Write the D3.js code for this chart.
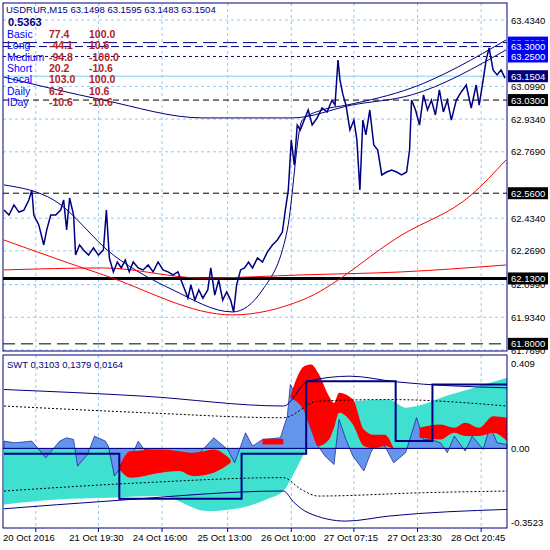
<!DOCTYPE html>
<html><head><meta charset="utf-8">
<script src="https://cdn.jsdelivr.net/npm/d3@7"></script>
<style>body{margin:0;background:#fff}text{font-family:"Liberation Sans",Arial,sans-serif}</style>
</head><body><svg id="c" width="550" height="550"></svg>
<script>
// price data (bar index, close)
var barIdx = [0,5,10,15,20,25,28,30,35,40,43,47,52,57,60,63,66,70,72,76,80,85,90,95,100,103,106,110,114,118,122,126,130,135,140,145,150,155,160,165,170,175,178,182,185,188,192,196,200,205,208,212,216,220,224,228,231,234,238,242,246,250,255,260,265,270,275,280,283,286,289,292,295,298,302,306,310,315,320,325,330,333,336,338,341,344,348,352,355,358,361,364,368,372,376,380,385,390,395,400,405,408,410,414,418,422,426,430,434,438,442,446,450,455,460,465,470,475,478,482,485,488,492,496,500,504];
var closes = [62.475,62.450,62.501,62.465,62.475,62.526,62.576,62.450,62.400,62.299,62.375,62.450,62.450,62.475,62.526,62.375,62.536,62.450,62.248,62.299,62.274,62.248,62.284,62.248,62.274,62.475,62.233,62.163,62.213,62.183,62.223,62.163,62.213,62.183,62.173,62.198,62.163,62.213,62.173,62.163,62.148,62.163,62.122,62.072,62.031,62.097,62.021,62.072,62.031,62.072,62.183,62.046,62.122,62.021,62.062,62.021,61.961,62.097,62.173,62.183,62.213,62.183,62.233,62.213,62.264,62.299,62.324,62.364,62.475,62.576,62.829,62.703,62.904,62.879,62.929,62.980,62.904,62.940,62.990,62.970,63.030,63.005,63.232,63.131,63.056,63.005,62.879,62.929,62.829,62.576,62.929,62.854,62.980,62.803,62.778,62.652,62.667,62.677,62.667,62.652,62.667,62.778,63.030,62.980,62.904,63.056,62.980,63.030,62.955,63.081,62.970,63.030,62.929,63.030,63.071,63.106,62.990,63.106,63.005,63.131,63.232,63.293,63.182,63.157,63.182,63.141];
var maSlow = [[0,63.146],[100,63.030],[200,62.940],[290,62.940],[350,63.005],[410,63.056],[505,63.283]];
var maFast = [[0,62.602],[50,62.526],[110,62.248],[170,62.072],[230,61.961],[260,62.072],[285,62.375],[300,62.929],[320,62.980],[345,63.005],[410,63.091],[505,63.333]];
var redA = [[0,62.324],[100,62.148],[230,61.946],[300,62.021],[400,62.349],[470,62.551],[505,62.728]];
var redB = [[0,62.173],[100,62.183],[200,62.132],[300,62.148],[400,62.163],[505,62.198]];
var priceTicks = [63.434,63.099,62.934,62.769,62.434,62.269,62.099,61.934,61.769];
var levels = [
  {v:63.32,label:"63.3200",dash:"14,6",col:"#000080",bg:"#0000ff"},
  {v:63.30,label:"63.3000",dash:"8,4",col:"#000080",bg:"#0000ff"},
  {v:63.25,label:"63.2500",dash:"3,3",col:"#000080",bg:"#0000ff"},
  {v:63.1504,label:"63.1504",dash:null,col:"#87cefa",bg:"#000080"},
  {v:63.03,label:"63.0300",dash:"6,4",col:"#000",bg:"#000"},
  {v:62.56,label:"62.5600",dash:"6,4",col:"#000",bg:"#000"},
  {v:62.13,label:"62.1300",dash:null,col:"#000",bg:"#000",w:3},
  {v:61.80,label:"61.8000",dash:"12,6",col:"#000",bg:"#000"}];
var infoNames = ["Basic","Long","Medium","Short","Local","Daily","IDay"];
var infoA = ["77.4","-44.1","-94.8","20.2","103.0","6.2","-10.6"];
var infoB = ["100.0","10.6","-100.0","-10.6","100.0","10.6","-10.6"];
var timeLabels = ["20 Oct 2016","21 Oct 19:30","24 Oct 16:00","25 Oct 13:00","26 Oct 10:00","27 Oct 07:15","27 Oct 23:30","28 Oct 20:45"];
var timeTicks = [0,93,157,222,286,349,413,477];
var gridTicks = [32,95,159,225,289,352,416,480];

// oscillator
var osc = [[0,0.035],[11,0.027],[28,0.035],[42,-0.045],[56,0.035],[63,0.051],[70,0.043],[74,-0.085],[84,-0.029],[91,0.059],[102,0.035],[105,0.011],[111,-0.132],[116,-0.100],[130,-0.021],[135,0.035],[141,-0.005],[176,-0.021],[183,-0.069],[197,-0.021],[211,0.051],[225,-0.005],[232,-0.069],[243,0.075],[250,0.011],[260,0.043],[278,0.051],[285,0.155],[288,0.306],[295,0.250],[302,0.187],[309,0.091],[316,0.011],[323,-0.037],[332,-0.077],[337,0.139],[344,0.043],[351,-0.037],[362,-0.108],[369,-0.021],[376,0.043],[383,0.011],[392,-0.069],[404,-0.021],[415,0.147],[422,0.043],[429,0.043],[439,0.027],[446,-0.021],[453,0.059],[464,-0.013],[471,0.059],[482,-0.005],[489,0.107],[496,0.027],[506,0.019]];
var trend = [[0,-0.268],[53,-0.244],[105,-0.236],[158,-0.228],[204,-0.300],[239,-0.284],[264,-0.244],[281,-0.204],[292,-0.116],[304,-0.005],[316,0.091],[334,0.171],[351,0.226],[387,0.234],[404,0.195],[422,0.211],[439,0.242],[467,0.282],[506,0.338]];
var redSegs = [
  [[116,-0.084,-0.100],[127,-0.013,-0.140],[158,-0.005,-0.116],[176,-0.013,-0.108],[190,-0.021,-0.132],[211,-0.005,-0.116],[228,-0.053,-0.069]],
  [[260,0.046,0.019],[281,0.046,0.019]],
  [[288,0.250,0.242],[302,0.394,0.179],[309,0.402,0.091],[316,0.362,0.011],[327,0.250,0.043],[332,0.218,0.100],[337,0.266,0.171],[351,0.234,0.115],[362,0.091,0.011],[372,0.066,0.000],[383,0.066,0.011],[392,0.000,-0.005]],
  [[418,0.099,0.051],[439,0.115,0.043],[453,0.099,0.075],[464,0.123,0.059],[478,0.099,0.059],[492,0.154,0.075],[506,0.147,0.035]]];
var upThin = [[0,0.282],[141,0.250],[281,0.203],[306,0.322],[348,0.346],[394,0.319],[506,0.290]];
var loThin = [[0,-0.289],[105,-0.252],[281,-0.204],[292,-0.260],[306,-0.308],[344,-0.348],[387,-0.324],[506,-0.292]];
var upDash = [[0,0.203],[141,0.171],[281,0.147],[316,0.226],[387,0.234],[506,0.203]];
var loDash = [[0,-0.204],[141,-0.164],[281,-0.140],[299,-0.196],[316,-0.228],[422,-0.212],[506,-0.204]];
var steps = [[0,-0.025],[116,-0.241],[239,-0.025],[304,0.322],[394,0.035],[431,0.306],[506,0.306]];

var svg = d3.select("#c");
var L = 3, R = 507;
var x = d3.scaleLinear().domain([0,506]).range([L+1,R]);
var y = d3.scaleLinear().domain([61.769,63.434]).range([350,20]);
var y2 = d3.scaleLinear().domain([-0.3523,0.409]).range([522,363]);
var navy = "#000080", grid = "#87cefa";

// grids
[[3,351],[355,528]].forEach(function(p){
  svg.append("g").selectAll("line").data(gridTicks)
    .enter().append("line").attr("x1",function(d){return x(d);}).attr("x2",function(d){return x(d);})
    .attr("y1",p[0]).attr("y2",p[1]).attr("stroke",grid).attr("stroke-dasharray","3,3");
});
svg.append("g").selectAll("line").data(priceTicks).enter().append("line")
  .attr("x1",L).attr("x2",R).attr("y1",function(d){return y(d);}).attr("y2",function(d){return y(d);})
  .attr("stroke",grid).attr("stroke-dasharray","3,3");

// levels
levels.forEach(function(l){
  svg.append("line").attr("x1",L).attr("x2",R).attr("y1",y(l.v)).attr("y2",y(l.v))
    .attr("stroke",l.col).attr("stroke-width",l.w||1).attr("stroke-dasharray",l.dash);
});

var ln = d3.line().x(function(d){return x(d[0]);}).y(function(d){return y(d[1]);}).curve(d3.curveMonotoneX);
[[maSlow,navy],[maFast,navy],[redA,"#ff0000"],[redB,"#ff0000"]].forEach(function(s){
  svg.append("path").attr("d",ln(s[0])).attr("fill","none").attr("stroke",s[1]);
});
var pts = barIdx.map(function(b,i){return [b,closes[i]];});
svg.append("path").attr("d",d3.line().x(function(d){return x(d[0]);}).y(function(d){return y(d[1]);})(pts))
  .attr("fill","none").attr("stroke",navy).attr("stroke-width",1.5);

// right axis
svg.append("g").selectAll("text").data(priceTicks).enter().append("text")
  .attr("x",511).attr("y",function(d){return y(d)+3.5;}).attr("font-size",9.5).text(function(d){return d.toFixed(4);});
levels.forEach(function(l){
  svg.append("rect").attr("x",508).attr("y",y(l.v)-6).attr("width",40).attr("height",12).attr("fill",l.bg);
  svg.append("text").attr("x",511).attr("y",y(l.v)+3.5).attr("font-size",9.5).attr("fill","#fff").text(l.label);
});

// info text
svg.append("text").attr("x",6).attr("y",13).attr("font-size",9.5).attr("fill",navy).text("USDRUR,M15  63.1498 63.1595 63.1483 63.1504");
svg.append("text").attr("x",8).attr("y",26).attr("font-size",11).attr("font-weight","bold").attr("fill",navy).text("0.5363");
infoNames.forEach(function(n,i){
  var yy = 38 + i*11.3;
  svg.append("text").attr("x",7).attr("y",yy).attr("font-size",10.5).attr("fill","#0000ff").text(n);
  svg.append("text").attr("x",49).attr("y",yy).attr("font-size",10.5).attr("font-weight","bold").attr("fill","#b22222").text(infoA[i]);
  svg.append("text").attr("x",89).attr("y",yy).attr("font-size",10.5).attr("font-weight","bold").attr("fill","#b22222").text(infoB[i]);
});

// lower panel
var a2 = function(data){return d3.area().x(function(d){return x(d[0]);}).y0(y2(0)).y1(function(d){return y2(d[1]);}).curve(d3.curveMonotoneX)(data);};
svg.append("path").attr("d",a2(trend)).attr("fill","#40e0d0");
svg.append("path").attr("d",d3.area().x(function(d){return x(d[0]);}).y0(y2(0)).y1(function(d){return y2(d[1]);})(osc))
  .attr("fill","#6495ed").attr("stroke",navy).attr("stroke-width",0.6);
redSegs.forEach(function(seg){
  svg.append("path").attr("d",d3.area().x(function(d){return x(d[0]);}).y0(function(d){return y2(d[2]);}).y1(function(d){return y2(d[1]);}).curve(d3.curveMonotoneX)(seg))
    .attr("fill","#ff0000");
});
svg.append("line").attr("x1",L).attr("x2",R).attr("y1",y2(0)).attr("y2",y2(0)).attr("stroke",navy);
var l2 = d3.line().x(function(d){return x(d[0]);}).y(function(d){return y2(d[1]);}).curve(d3.curveMonotoneX);
svg.append("path").attr("d",l2(upThin)).attr("fill","none").attr("stroke",navy);
svg.append("path").attr("d",l2(loThin)).attr("fill","none").attr("stroke",navy);
svg.append("path").attr("d",l2(upDash)).attr("fill","none").attr("stroke","#000").attr("stroke-dasharray","2,2");
svg.append("path").attr("d",l2(loDash)).attr("fill","none").attr("stroke","#000").attr("stroke-dasharray","2,2");
svg.append("path").attr("d",l2.curve(d3.curveStepAfter)(steps)).attr("fill","none").attr("stroke",navy).attr("stroke-width",2);
svg.append("text").attr("x",7).attr("y",368).attr("font-size",9.5).attr("fill",navy).text("SWT 0,3103 0,1379 0,0164");
[[0.409,"0.409"],[0,"0.00"],[-0.3523,"-0.3523"]].forEach(function(t){
  svg.append("text").attr("x",511).attr("y",y2(t[0])+3.5).attr("font-size",9.5).text(t[1]);
});

// frames
svg.append("rect").attr("x",L).attr("y",3).attr("width",R-L).attr("height",348).attr("fill","none").attr("stroke",navy);
svg.append("rect").attr("x",L).attr("y",355).attr("width",R-L).attr("height",173).attr("fill","none").attr("stroke",navy);

// time axis
timeLabels.forEach(function(t,i){
  svg.append("text").attr("x",i===0 ? 3 : x(timeTicks[i])).attr("y",541).attr("font-size",9.5)
    .attr("text-anchor",i===0 ? "start" : "middle").text(t);
  svg.append("line").attr("x1",x(gridTicks[i])).attr("x2",x(gridTicks[i])).attr("y1",528).attr("y2",532).attr("stroke",navy);
});
</script></body></html>
